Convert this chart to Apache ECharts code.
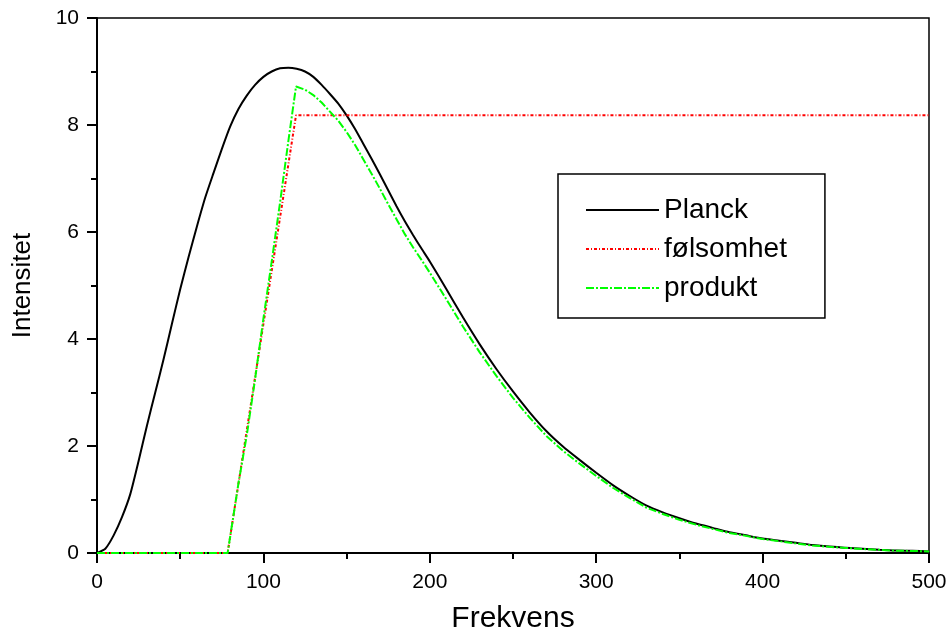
<!DOCTYPE html>
<html>
<head>
<meta charset="utf-8">
<script src="https://cdn.jsdelivr.net/npm/echarts@6/dist/echarts.min.js"></script>
<style>html,body{margin:0;padding:0;background:#fff}#c{width:950px;height:639px}</style>
</head>
<body>
<div id="c"></div>
<script>
var xTicks = [0, 100, 200, 300, 400, 500];
var yTicks = [0, 2, 4, 6, 8, 10];

var planckX = [0,5,10,15,20,25,30,35,40,45,50,55,60,65,70,75,80,85,90,95,100,105,110,115,120,125,130,135,140,145,150,155,160,165,170,175,180,185,190,195,200,210,220,230,240,250,260,270,280,290,300,310,320,330,340,350,360,370,380,390,400,410,420,430,440,450,460,470,480,490,500];
var planckY = [0,0.08,0.33,0.67,1.1,1.72,2.38,3.0,3.62,4.28,4.93,5.53,6.1,6.64,7.1,7.55,7.97,8.3,8.55,8.75,8.9,9.0,9.06,9.07,9.05,9.0,8.9,8.75,8.58,8.4,8.18,7.93,7.65,7.37,7.08,6.78,6.48,6.2,5.94,5.69,5.45,4.93,4.4,3.9,3.44,3.02,2.63,2.28,1.99,1.74,1.5,1.27,1.07,0.89,0.76,0.65,0.55,0.47,0.39,0.33,0.27,0.23,0.19,0.15,0.12,0.1,0.08,0.06,0.045,0.04,0.03];

var folX = [0, 78.5, 119.6, 500];
var folY = [0, 0, 8.18, 8.18];

var prodX = [0,78.5,85,90,95,100,105,110,115,119.6,125,130,135,140,145,150,155,160,165,170,175,180,185,190,195,200,210,220,230,240,250,260,270,280,290,300,310,320,330,340,350,360,370,380,390,400,410,420,430,440,450,460,470,480,490,500];
var prodY = [0,0,1.3,2.2,3.25,4.38,5.45,6.55,7.7,8.72,8.66,8.56,8.42,8.25,8.08,7.87,7.63,7.36,7.09,6.81,6.52,6.24,5.96,5.71,5.48,5.24,4.74,4.23,3.75,3.31,2.9,2.53,2.19,1.91,1.67,1.44,1.22,1.03,0.85,0.73,0.62,0.53,0.45,0.375,0.32,0.26,0.22,0.18,0.14,0.115,0.095,0.075,0.06,0.043,0.038,0.03];

var seriesNames = ['Planck', 'følsomhet', 'produkt'];

function pairs(xs, ys) { return xs.map(function (x, i) { return [x, ys[i]]; }); }

var FONT = 'Liberation Sans, Arial, sans-serif';
var chart = echarts.init(document.getElementById('c'), null, { renderer: 'canvas' });
chart.setOption({
  animation: false,
  backgroundColor: '#fff',
  grid: { left: 97, right: 21, top: 18, bottom: 86, show: true, borderColor: '#000', borderWidth: 1.5, backgroundColor: 'transparent' },
  xAxis: {
    type: 'value', min: xTicks[0], max: xTicks[xTicks.length - 1], interval: 100,
    name: 'Frekvens', nameLocation: 'middle', nameGap: 51,
    nameTextStyle: { fontFamily: FONT, fontSize: 30, color: '#000' },
    axisLine: { onZero: false, lineStyle: { color: '#000', width: 2 } },
    axisTick: { show: true, inside: false, length: 10, lineStyle: { color: '#000', width: 2 } },
    minorTick: { show: true, splitNumber: 2, length: 6, lineStyle: { color: '#000', width: 2 } },
    axisLabel: { fontFamily: FONT, fontSize: 21, color: '#000', margin: 19 },
    splitLine: { show: false }
  },
  yAxis: {
    type: 'value', min: yTicks[0], max: yTicks[yTicks.length - 1], interval: 2,
    name: 'Intensitet', nameLocation: 'middle', nameGap: 61,
    nameTextStyle: { fontFamily: FONT, fontSize: 26, color: '#000' },
    axisLine: { onZero: false, lineStyle: { color: '#000', width: 2 } },
    axisTick: { show: true, inside: false, length: 10, lineStyle: { color: '#000', width: 2 } },
    minorTick: { show: true, splitNumber: 2, length: 6, lineStyle: { color: '#000', width: 2 } },
    axisLabel: { fontFamily: FONT, fontSize: 21, color: '#000', margin: 18 },
    splitLine: { show: false }
  },
  legend: {
    orient: 'vertical', left: 558, top: 174,
    padding: [21, 38, 15, 27],
    itemWidth: 73, itemHeight: 14, itemGap: 9, itemTextGap: 15,
    borderColor: '#000', borderWidth: 1.5, backgroundColor: '#fff',
    itemStyle: { opacity: 0 },
    textStyle: { fontFamily: FONT, fontSize: 28, color: '#000', lineHeight: 30 },
    data: seriesNames
  },
  series: [
    { name: seriesNames[0], type: 'line', data: pairs(planckX, planckY), showSymbol: false, symbol: 'none',
      smooth: 0.2,
      lineStyle: { color: '#000', width: 2 }, itemStyle: { color: '#000' }, z: 2 },
    { name: seriesNames[1], type: 'line', data: pairs(folX, folY), showSymbol: false, symbol: 'none',
      lineStyle: { color: '#ff0000', width: 2, type: [3, 2, 1, 2] }, itemStyle: { color: '#ff0000' }, z: 3 },
    { name: seriesNames[2], type: 'line', data: pairs(prodX, prodY), showSymbol: false, symbol: 'none',
      lineStyle: { color: '#00ff00', width: 2, type: [8, 2, 2, 2] }, itemStyle: { color: '#00ff00' }, z: 4 }
  ]
});
</script>
</body>
</html>
